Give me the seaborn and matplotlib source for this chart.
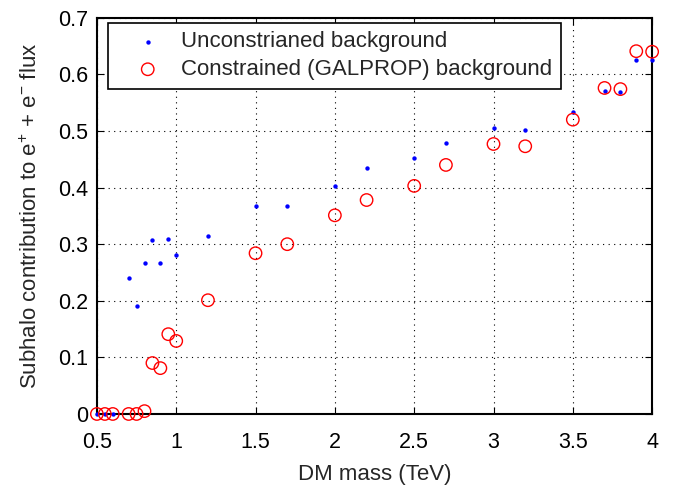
import pandas as pd
import matplotlib
matplotlib.use("Agg")
import matplotlib.pyplot as plt
import seaborn as sns

# DM mass (TeV) and subhalo contribution
mass_unc = [0.5, 0.55, 0.6, 0.7, 0.75, 0.8, 0.85, 0.9, 0.95, 1.0, 1.2, 1.5, 1.7,
            2.0, 2.2, 2.5, 2.7, 3.0, 3.2, 3.5, 3.7, 3.8, 3.9, 4.0]
frac_unc = [0.0, 0.0, 0.0, 0.240, 0.190, 0.266, 0.308, 0.266, 0.310, 0.280, 0.314,
            0.367, 0.367, 0.402, 0.434, 0.452, 0.479, 0.506, 0.502, 0.534, 0.570,
            0.569, 0.626, 0.625]

mass_con = [0.5, 0.55, 0.6, 0.7, 0.75, 0.8, 0.85, 0.9, 0.95, 1.0, 1.2, 1.5, 1.7,
            2.0, 2.2, 2.5, 2.7, 3.0, 3.2, 3.5, 3.7, 3.8, 3.9, 4.0]
frac_con = [0.0, 0.0, 0.0, 0.0, 0.0, 0.005, 0.090, 0.081, 0.141, 0.129, 0.201,
            0.284, 0.300, 0.351, 0.378, 0.403, 0.440, 0.477, 0.473, 0.520, 0.576,
            0.574, 0.641, 0.640]

label_unc = "Unconstrianed background"
label_con = "Constrained (GALPROP) background"

df_unc = pd.DataFrame({"mass": mass_unc, "frac": frac_unc})
df_con = pd.DataFrame({"mass": mass_con, "frac": frac_con})

sns.set_style("ticks")
plt.rcParams['font.family'] = ['Liberation Sans', 'DejaVu Sans']
plt.rcParams['mathtext.default'] = 'regular'

fig = plt.figure(figsize=(6.73, 4.94), dpi=100)
ax = fig.add_axes([0.144, 0.162, 0.825, 0.802])

sns.scatterplot(data=df_unc, x="mass", y="frac", ax=ax, color="#0000ff",
                marker="o", s=10, linewidth=0, label=label_unc, clip_on=False, zorder=3)
sns.scatterplot(data=df_con, x="mass", y="frac", ax=ax, facecolor="none",
                edgecolor="#ff0000", marker="o", s=80, linewidth=1.0,
                label=label_con, clip_on=False, zorder=4)

ax.set_xlim(0.5, 4)
ax.set_ylim(0, 0.7)
ax.set_xticks([0.5, 1, 1.5, 2, 2.5, 3, 3.5, 4])
ax.set_xticklabels(["0.5", "1", "1.5", "2", "2.5", "3", "3.5", "4"])
ax.set_yticks([0, 0.1, 0.2, 0.3, 0.4, 0.5, 0.6, 0.7])
ax.set_yticklabels(["0", "0.1", "0.2", "0.3", "0.4", "0.5", "0.6", "0.7"])

ax.grid(True, color="black", linestyle=(0, (1, 4)), linewidth=0.8)
for side in ["top", "right", "left", "bottom"]:
    ax.spines[side].set_visible(True)
    ax.spines[side].set_linewidth(1.5)
    ax.spines[side].set_color("black")
ax.tick_params(direction="in", length=5, width=0.8, labelsize=15.5, top=True,
               right=True, colors="black")
ax.tick_params(axis="x", pad=13)
ax.tick_params(axis="y", pad=6)

ax.set_xlabel("DM mass (TeV)", fontsize=16, labelpad=8)
ax.set_ylabel("Subhalo contribution to e$^{+}$ + e$^{-}$ flux", fontsize=16, labelpad=12)

leg = ax.legend(loc="upper left", bbox_to_anchor=(0.0195, 0.988), fontsize=16,
                frameon=True, fancybox=False, edgecolor="black", framealpha=1,
                borderpad=0.4, handletextpad=0.1, labelspacing=0.3,
                handlelength=2.8, borderaxespad=0)
leg.get_frame().set_linewidth(1.2)

fig.savefig("out.png", dpi=100)
